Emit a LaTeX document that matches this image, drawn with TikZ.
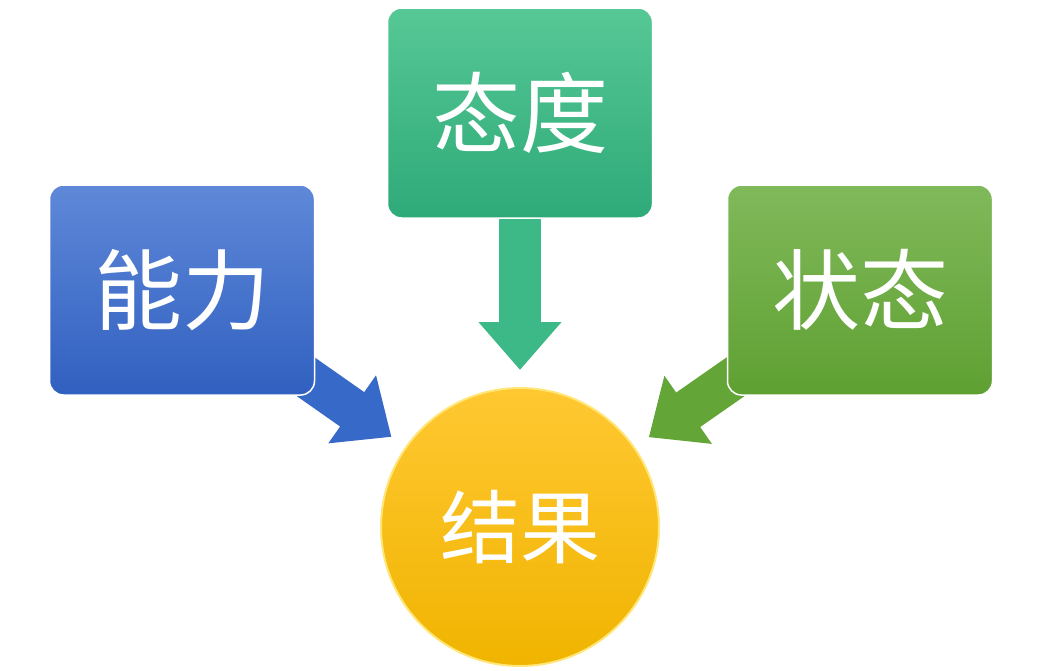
\documentclass[tikz,border=0pt]{standalone}
\usepackage{fontspec}
\newfontfamily\cjk{Noto Sans CJK SC}
\usetikzlibrary{arrows.meta,backgrounds}
\definecolor{bluet}{RGB}{95,136,216}
\definecolor{blueb}{RGB}{48,96,192}
\definecolor{bluea}{RGB}{55,105,200}
\definecolor{tealt}{RGB}{86,200,150}
\definecolor{tealb}{RGB}{46,170,120}
\definecolor{teala}{RGB}{60,185,135}
\definecolor{grnt}{RGB}{128,185,90}
\definecolor{grnb}{RGB}{95,160,50}
\definecolor{grna}{RGB}{100,165,55}
\definecolor{ylwt}{RGB}{255,200,50}
\definecolor{ylwb}{RGB}{240,180,0}
\definecolor{ylwd}{RGB}{255,230,120}
\begin{document}
\begin{tikzpicture}[x=1pt,y=-1pt,
  box/.style={rounded corners=14pt,minimum width=265pt,minimum height=210pt,inner sep=0pt,draw=white,line width=1.5pt,text=white,font=\cjk\fontsize{88}{88}\selectfont},
  conn/.style={line width=42pt,shorten >=17pt,-{Triangle[width=80pt,length=48pt]}}]
\useasboundingbox (0,0) rectangle (1041,670);
\node[box,top color=bluet,bottom color=blueb] (a) at (182,290) {能力};
\node[box,top color=tealt,bottom color=tealb] (b) at (520,113) {态度};
\node[box,top color=grnt,bottom color=grnb] (c) at (860,290) {状态};
\node[circle,minimum size=278pt,inner sep=0pt,draw=ylwd,line width=2pt,top color=ylwt,bottom color=ylwb,text=white,font=\cjk\fontsize{80}{80}\selectfont] (r) at (520,527) {结果};
\begin{pgfonlayer}{background}
\draw[conn,bluea] (a.center) -- (r);
\draw[conn,teala] (b.center) -- (r);
\draw[conn,grna] (c.center) -- (r);
\end{pgfonlayer}
\end{tikzpicture}
\end{document}
